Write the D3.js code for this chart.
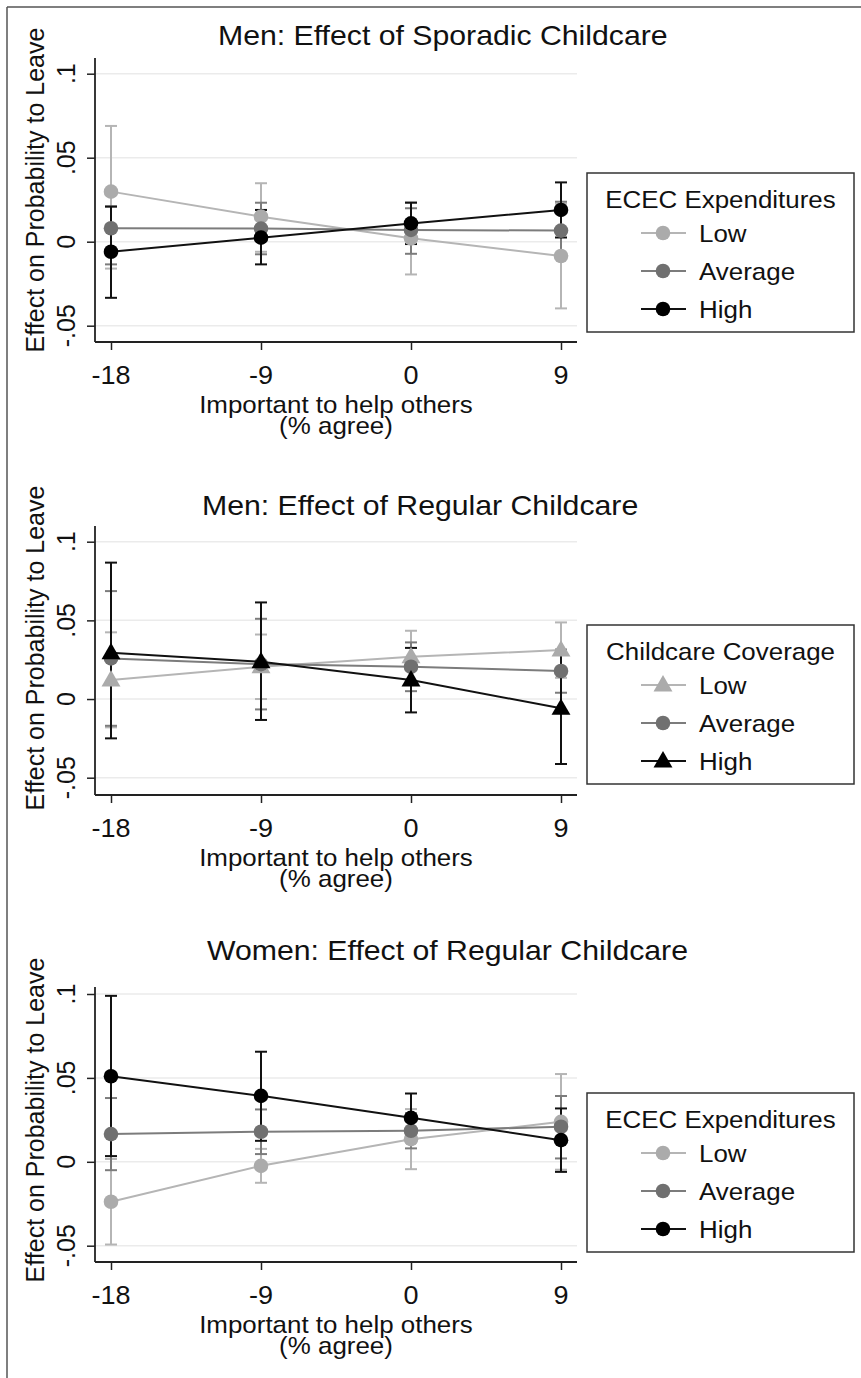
<!DOCTYPE html>
<html>
<head>
<meta charset="utf-8">
<style>
  body { margin: 0; background: #ffffff; }
  text { font-family: "Liberation Sans", Arial, sans-serif; fill: #111; }
</style>
</head>
<body>
<script src="https://d3js.org/d3.v7.min.js"></script>
<script>
// ---- data ----
var xValues = [-18, -9, 0, 9];
var xTickLabels = ["-18", "-9", "0", "9"];
var yTicks = [-0.05, 0, 0.05, 0.1];
var yTickLabels = ["-.05", "0", ".05", ".1"];
var levels = ["Low", "Average", "High"];
var xTitle = ["Important to help others", "(% agree)"];
var yTitle = "Effect on Probability to Leave";

var titles = ["Men: Effect of Sporadic Childcare", "Men: Effect of Regular Childcare", "Women: Effect of Regular Childcare"];
var legendTitles = ["ECEC Expenditures", "Childcare Coverage", "ECEC Expenditures"];

// panel 1 - men, sporadic
var p1Low = [0.0298, 0.0149, 0.002, -0.0085];
var p1LowLo = [-0.016, -0.006, -0.0195, -0.0397];
var p1LowHi = [0.0689, 0.0348, 0.0235, 0.0227];
var p1Avg = [0.008, 0.0078, 0.007, 0.0066];
var p1AvgLo = [-0.0135, -0.0075, -0.0072, -0.010];
var p1AvgHi = [0.021, 0.0232, 0.0199, 0.0238];
var p1High = [-0.006, 0.0024, 0.0109, 0.0189];
var p1HighLo = [-0.0334, -0.0135, -0.0014, 0.0025];
var p1HighHi = [0.0209, 0.0189, 0.0232, 0.0353];

// panel 2 - men, regular
var p2Low = [0.0121, 0.0205, 0.0269, 0.0311];
var p2LowLo = [-0.018, 0.0, 0.0105, 0.0135];
var p2LowHi = [0.0424, 0.041, 0.0434, 0.0487];
var p2Avg = [0.0258, 0.0222, 0.0205, 0.0178];
var p2AvgLo = [-0.017, -0.0066, 0.005, 0.004];
var p2AvgHi = [0.0686, 0.051, 0.036, 0.0315];
var p2High = [0.0294, 0.0237, 0.0121, -0.0059];
var p2HighLo = [-0.025, -0.0133, -0.0085, -0.0413];
var p2HighHi = [0.0867, 0.0614, 0.0325, 0.0295];

// panel 3 - women, regular
var p3Low = [-0.0238, -0.0024, 0.0135, 0.0238];
var p3LowLo = [-0.0493, -0.0125, -0.0044, -0.0047];
var p3LowHi = [0.0017, 0.0077, 0.0314, 0.0523];
var p3Avg = [0.0165, 0.0179, 0.0185, 0.0209];
var p3AvgLo = [-0.005, 0.0046, 0.008, 0.002];
var p3AvgHi = [0.038, 0.0312, 0.029, 0.0392];
var p3High = [0.051, 0.0393, 0.0262, 0.0129];
var p3HighLo = [0.0034, 0.0125, 0.0117, -0.006];
var p3HighHi = [0.0989, 0.0656, 0.0407, 0.0318];

// ---- layout ----
var W = 861, H = 1378;
var markerFill = ["#ababab", "#707070", "#000000"];
var lineStroke = ["#b5b5b5", "#7c7c7c", "#111111"];
var SX = 1.08; // source image is a bit wide, text looks stretched

var svg = d3.select("body").append("svg")
    .attr("width", W)
    .attr("height", H);

// outer frame (top and left)
svg.append("line").attr("x1", 7).attr("x2", W).attr("y1", 7).attr("y2", 7)
    .attr("stroke", "#555").attr("stroke-width", 1.5);
svg.append("line").attr("x1", 7).attr("x2", 7).attr("y1", 7).attr("y2", H)
    .attr("stroke", "#555").attr("stroke-width", 1.5);

var panels = [
    { title: titles[0], legend: legendTitles[0], shapes: ["circle", "circle", "circle"],
      series: [[p1Low, p1LowLo, p1LowHi], [p1Avg, p1AvgLo, p1AvgHi], [p1High, p1HighLo, p1HighHi]],
      titleX: 218, titleY: 45, axTop: 58, axBot: 342, yLo: 325.7, yHi: 73.7, legTop: 173, yTitleC: 190 },
    { title: titles[1], legend: legendTitles[1], shapes: ["triangle", "circle", "triangle"],
      series: [[p2Low, p2LowLo, p2LowHi], [p2Avg, p2AvgLo, p2AvgHi], [p2High, p2HighLo, p2HighHi]],
      titleX: 202, titleY: 515, axTop: 526, axBot: 795, yLo: 777.7, yHi: 541.7, legTop: 625, yTitleC: 648 },
    { title: titles[2], legend: legendTitles[2], shapes: ["circle", "circle", "circle"],
      series: [[p3Low, p3LowLo, p3LowHi], [p3Avg, p3AvgLo, p3AvgHi], [p3High, p3HighLo, p3HighHi]],
      titleX: 207, titleY: 960, axTop: 987, axBot: 1262, yLo: 1245.7, yHi: 994, legTop: 1093, yTitleC: 1120 }
];

var x = d3.scaleLinear().domain([-18, 9]).range([111, 561]);
var plotLeft = 95, plotRight = 577;

// horizontal text, slightly widened
function htext(g, tx, ty, size, anchor, str) {
    return g.append("text")
        .attr("transform", "translate(" + tx + "," + ty + ") scale(" + SX + ",1)")
        .attr("text-anchor", anchor)
        .attr("font-size", size + "px")
        .text(str);
}

function marker(g, shape, cx, cy, fill) {
    if (shape === "circle") {
        g.append("circle").attr("cx", cx).attr("cy", cy).attr("r", 7.3).attr("fill", fill);
    } else {
        g.append("path")
            .attr("d", d3.symbol().type(d3.symbolTriangle).size(155))
            .attr("transform", "translate(" + cx + "," + (cy + 1) + ")")
            .attr("fill", fill);
    }
}

panels.forEach(function (p) {
    var y = d3.scaleLinear().domain([-0.05, 0.1]).range([p.yLo, p.yHi]);
    var g = svg.append("g");

    // title
    htext(g, p.titleX, p.titleY, 28, "start", p.title);

    // gridlines
    g.selectAll(".grid").data(yTicks).enter().append("line")
        .attr("x1", plotLeft).attr("x2", plotRight)
        .attr("y1", function (d) { return y(d); })
        .attr("y2", function (d) { return y(d); })
        .attr("stroke", "#ebebeb").attr("stroke-width", 1.5);

    // y axis
    var ya = g.append("g")
        .attr("transform", "translate(" + plotLeft + ",0)")
        .call(d3.axisLeft(y).tickValues(yTicks).tickSize(8).tickFormat(""));
    ya.select(".domain").remove();
    ya.selectAll("line").attr("stroke", "#222").attr("stroke-width", 1.5);
    g.append("line").attr("x1", plotLeft).attr("x2", plotLeft)
        .attr("y1", p.axTop).attr("y2", p.axBot)
        .attr("stroke", "#222").attr("stroke-width", 1.8);
    g.selectAll(".ylab").data(yTicks).enter().append("text")
        .attr("transform", function (d) { return "translate(75," + y(d) + ") rotate(-90)"; })
        .attr("text-anchor", "middle")
        .attr("font-size", "25px")
        .text(function (d, i) { return yTickLabels[i]; });
    g.append("text")
        .attr("transform", "translate(44," + p.yTitleC + ") rotate(-90)")
        .attr("text-anchor", "middle")
        .attr("font-size", "25px")
        .text(yTitle);

    // x axis
    var xa = g.append("g")
        .attr("transform", "translate(0," + p.axBot + ")")
        .call(d3.axisBottom(x).tickValues(xValues).tickSize(8).tickFormat(""));
    xa.select(".domain").remove();
    xa.selectAll("line").attr("stroke", "#222").attr("stroke-width", 1.5);
    g.append("line").attr("x1", plotLeft).attr("x2", plotRight)
        .attr("y1", p.axBot).attr("y2", p.axBot)
        .attr("stroke", "#222").attr("stroke-width", 1.8);
    xValues.forEach(function (d, i) {
        htext(g, x(d), p.axBot + 42, 25, "middle", xTickLabels[i]);
    });
    htext(g, 336, p.axBot + 71, 24, "middle", xTitle[0]);
    htext(g, 336, p.axBot + 92, 24, "middle", xTitle[1]);

    // error bars
    p.series.forEach(function (s, k) {
        xValues.forEach(function (xv, i) {
            var cx = x(xv);
            g.append("line").attr("x1", cx).attr("x2", cx)
                .attr("y1", y(s[1][i])).attr("y2", y(s[2][i]))
                .attr("stroke", lineStroke[k]).attr("stroke-width", 2);
            [s[1][i], s[2][i]].forEach(function (v) {
                g.append("line").attr("x1", cx - 6).attr("x2", cx + 6)
                    .attr("y1", y(v)).attr("y2", y(v))
                    .attr("stroke", lineStroke[k]).attr("stroke-width", 2);
            });
        });
    });

    // lines and markers
    p.series.forEach(function (s, k) {
        var line = d3.line()
            .x(function (d, i) { return x(xValues[i]); })
            .y(function (d) { return y(d); });
        g.append("path").datum(s[0])
            .attr("d", line)
            .attr("fill", "none")
            .attr("stroke", lineStroke[k])
            .attr("stroke-width", 2);
        s[0].forEach(function (v, i) {
            marker(g, p.shapes[k], x(xValues[i]), y(v), markerFill[k]);
        });
    });

    // legend
    var lg = g.append("g").attr("transform", "translate(587," + p.legTop + ")");
    lg.append("rect").attr("x", 0).attr("y", 0).attr("width", 267).attr("height", 159)
        .attr("fill", "#fff").attr("stroke", "#333").attr("stroke-width", 1.5);
    htext(lg, 133.5, 35, 24, "middle", p.legend);
    levels.forEach(function (lev, k) {
        var cy = 60 + k * 38;
        lg.append("line").attr("x1", 54).attr("x2", 99).attr("y1", cy).attr("y2", cy)
            .attr("stroke", lineStroke[k]).attr("stroke-width", 2);
        marker(lg, p.shapes[k], 76, cy, markerFill[k]);
        htext(lg, 112, cy + 9, 24, "start", lev);
    });
});
</script>
</body>
</html>
